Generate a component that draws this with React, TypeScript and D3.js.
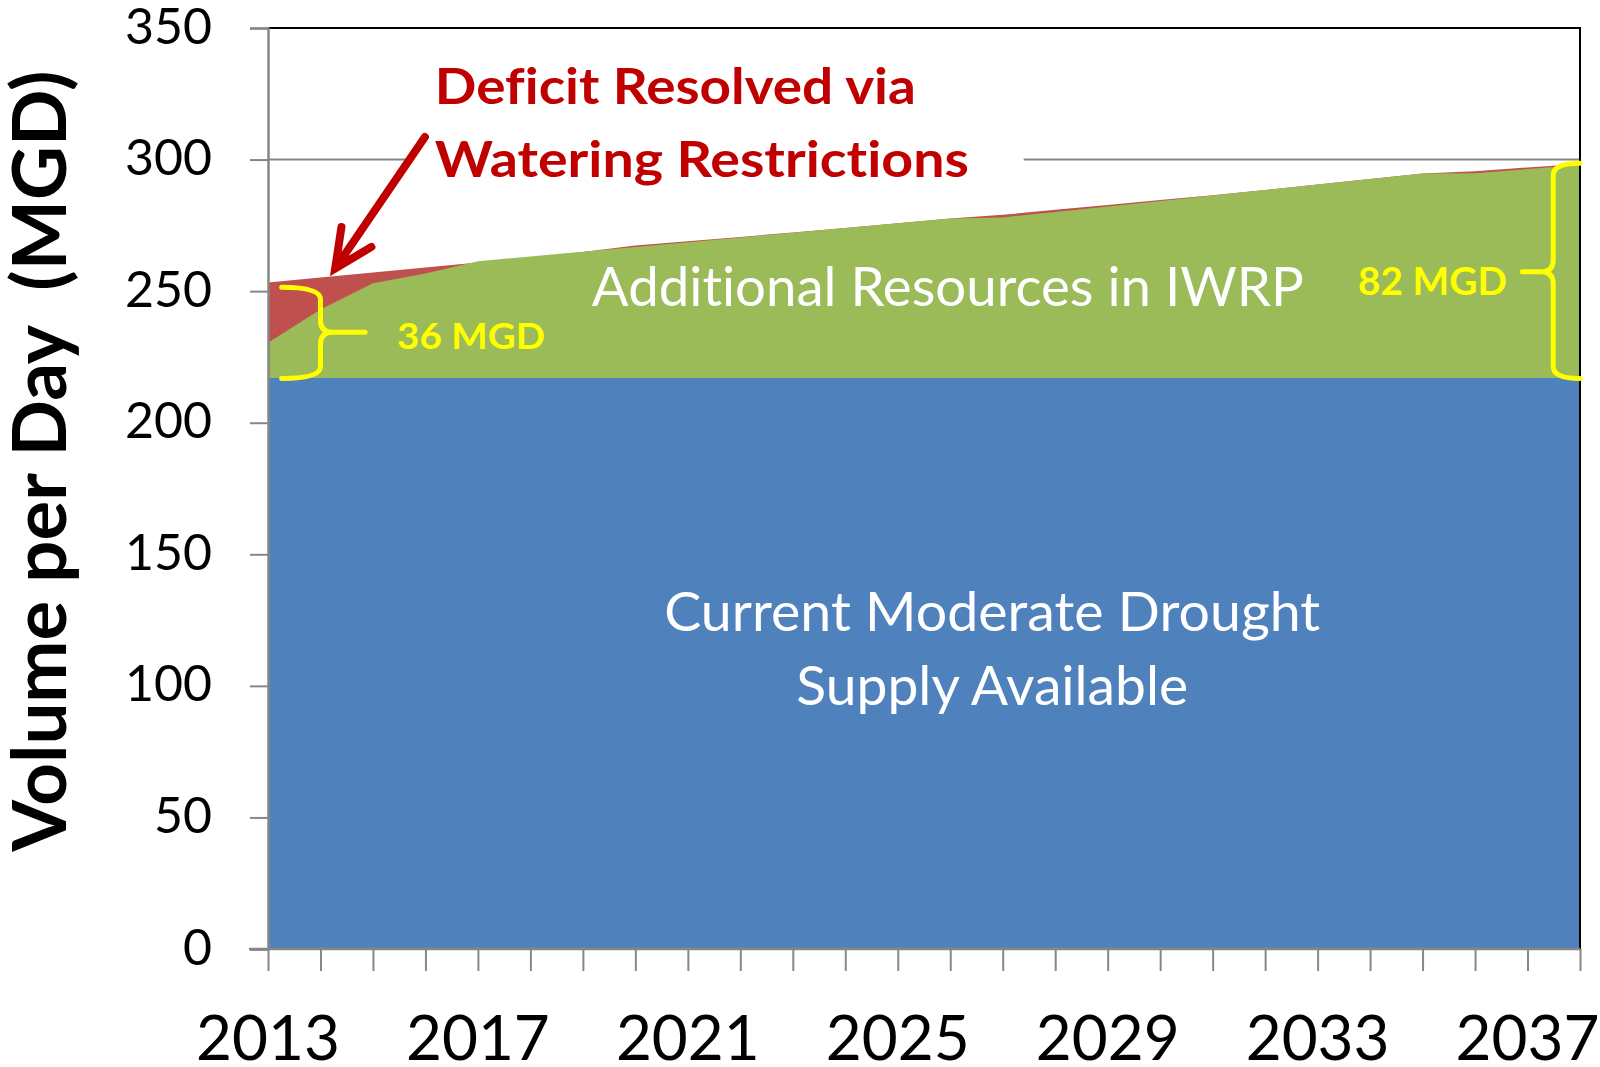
import React, { useEffect, useRef } from "react";
import * as d3 from "d3";

const years = [
    2013, 2014, 2015, 2016, 2017, 2018, 2019, 2020, 2021, 2022, 2023, 2024, 2025,
    2026, 2027, 2028, 2029, 2030, 2031, 2032, 2033, 2034, 2035, 2036, 2037, 2038
];

// current moderate drought supply (MGD)
const currentSupply = [
    217, 217, 217, 217, 217, 217, 217, 217, 217, 217, 217, 217, 217,
    217, 217, 217, 217, 217, 217, 217, 217, 217, 217, 217, 217, 217
];

// supply incl. additional IWRP resources (top of green)
const withIwrp = [
    230.4, 243.0, 253.0, 256.7, 261.4, 263.2, 265.0, 266.8, 268.6, 270.4, 272.2, 274.0, 275.8,
    277.6, 278.0, 280.1, 282.2, 284.3, 286.3, 288.4, 290.5, 292.6, 294.7, 294.8, 296.4, 297.9
];

// demand (top of red)
const demand = [
    253.3, 255.2, 257.1, 259.0, 260.9, 262.8, 264.9, 267.3, 269.0, 270.6, 272.3, 274.0, 275.8,
    277.6, 279.0, 280.9, 282.7, 284.6, 286.4, 288.4, 290.5, 292.6, 294.7, 295.6, 297.0, 298.3
];

const yTicks = [0, 50, 100, 150, 200, 250, 300, 350];
const xTickLabels = [2013, 2017, 2021, 2025, 2029, 2033, 2037];

const FONT = "Lato, 'Open Sans', sans-serif";

export default function App() {
    const svgRef = useRef(null);
    const width = 1600;
    const height = 1067;

    useEffect(() => {
        const svg = d3.select(svgRef.current);
        svg.selectAll("*").remove();

        const x = d3.scaleLinear().domain([2013, 2038]).range([268, 1580]);
        const y = d3.scaleLinear().domain([0, 350]).range([949, 28]);

        const rows = years.map((yr, i) => ({
            year: yr,
            base: currentSupply[i],
            iwrp: withIwrp[i],
            demand: demand[i]
        }));

        // gridlines (mostly hidden under the areas)
        svg.append("g")
            .selectAll("line")
            .data(yTicks.filter(t => t > 0 && t < 350))
            .join("line")
            .attr("x1", x(2013)).attr("x2", x(2038))
            .attr("y1", d => y(d)).attr("y2", d => y(d))
            .attr("stroke", "#868686")
            .attr("stroke-width", 2);

        const area = (key) => d3.area()
            .x(d => x(d.year))
            .y0(y(0))
            .y1(d => y(d[key]));

        svg.append("path").datum(rows).attr("d", area("demand")).attr("fill", "#C0504D");
        svg.append("path").datum(rows).attr("d", area("iwrp")).attr("fill", "#9BBB59");
        svg.append("path").datum(rows).attr("d", area("base")).attr("fill", "#4F81BD");

        // plot border top / right
        svg.append("path")
            .attr("d", `M${x(2013)},${y(350)} H${x(2038)} V${y(0)}`)
            .attr("fill", "none")
            .attr("stroke", "#000")
            .attr("stroke-width", 2);

        // white text box behind the callout (hides the 300 gridline)
        svg.append("rect")
            .attr("x", x(2015.62)).attr("y", 45)
            .attr("width", x(2027.4) - x(2015.62)).attr("height", 150)
            .attr("fill", "#fff");

        // y axis
        const yAxis = svg.append("g").attr("transform", `translate(${x(2013)},0)`)
            .call(d3.axisLeft(y).tickValues(yTicks).tickSize(18).tickPadding(38));
        yAxis.select(".domain").attr("stroke", "#868686").attr("stroke-width", 2.5);
        yAxis.selectAll(".tick line").attr("stroke", "#868686").attr("stroke-width", 2);
        yAxis.selectAll("text")
            .attr("font-family", FONT)
            .attr("font-size", 50)
            .attr("fill", "#000")
            .attr("dy", "0.3em");

        // x axis
        const xAxis = svg.append("g").attr("transform", `translate(0,${y(0)})`)
            .call(d3.axisBottom(x).tickValues(years).tickSize(22).tickFormat(() => ""));
        xAxis.select(".domain").attr("stroke", "#868686").attr("stroke-width", 2.5)
            .attr("d", `M${x(2013) - 19},0H${x(2038)}`);
        xAxis.selectAll(".tick line").attr("stroke", "#868686").attr("stroke-width", 2);

        svg.append("g")
            .selectAll("text")
            .data(xTickLabels)
            .join("text")
            .attr("x", d => x(d))
            .attr("y", 1060)
            .attr("text-anchor", "middle")
            .attr("font-family", FONT)
            .attr("font-size", 62)
            .attr("fill", "#000")
            .text(d => d);

        // y axis title
        svg.append("text")
            .attr("transform", `translate(66,461) rotate(-90)`)
            .attr("text-anchor", "middle")
            .attr("font-family", FONT)
            .attr("font-weight", "bold")
            .attr("font-size", 75)
            .attr("textLength", 781)
            .attr("lengthAdjust", "spacingAndGlyphs")
            .style("white-space", "pre")
            .attr("fill", "#000")
            .text("Volume per Day  (MGD)");

        // series labels
        svg.append("text")
            .attr("x", x(2019.17)).attr("y", y(244.3))
            .attr("font-family", FONT).attr("font-size", 54)
            .attr("textLength", 712).attr("lengthAdjust", "spacingAndGlyphs")
            .attr("fill", "#fff")
            .text("Additional Resources in IWRP");

        const cur = svg.append("text")
            .attr("text-anchor", "middle")
            .attr("font-family", FONT).attr("font-size", 54)
            .attr("fill", "#fff");
        cur.append("tspan").attr("x", x(2026.8)).attr("y", y(120.8))
            .attr("textLength", 656).attr("lengthAdjust", "spacingAndGlyphs")
            .text("Current Moderate Drought");
        cur.append("tspan").attr("x", x(2026.8)).attr("y", y(92.7))
            .attr("textLength", 392).attr("lengthAdjust", "spacingAndGlyphs")
            .text("Supply Available");

        // callout
        const callout = svg.append("text")
            .attr("font-family", FONT).attr("font-weight", "bold").attr("font-size", 49)
            .attr("fill", "#C00000");
        callout.append("tspan").attr("x", x(2016.18)).attr("y", y(321.3))
            .attr("textLength", 481).attr("lengthAdjust", "spacingAndGlyphs")
            .text("Deficit Resolved via");
        callout.append("tspan").attr("x", x(2016.18)).attr("y", y(293.4))
            .attr("textLength", 534).attr("lengthAdjust", "spacingAndGlyphs")
            .text("Watering Restrictions");

        const tip = [x(2014.28), y(258.6)];
        svg.append("path")
            .attr("d", `M${x(2015.99)},${y(308.6)} L${tip[0]},${tip[1]}
                        M${x(2014.4)},${y(274.4)} L${tip[0]},${tip[1]} L${x(2014.97)},${y(266.8)}`)
            .attr("fill", "none")
            .attr("stroke", "#C00000")
            .attr("stroke-width", 8)
            .attr("stroke-linecap", "round")
            .attr("stroke-linejoin", "miter");

        // braces
        const brace = (x0, xs, xt, y1, y2, ym, r) => {
            const s = Math.sign(xs - x0);
            return `M${x0},${y1} Q${xs},${y1} ${xs},${y1 + r}
                    L${xs},${ym - r} Q${xs},${ym} ${xs + s * r},${ym} L${xt},${ym}
                    M${xs + s * r},${ym} Q${xs},${ym} ${xs},${ym + r}
                    L${xs},${y2 - r} Q${xs},${y2} ${x0},${y2}`;
        };

        svg.append("path")
            .attr("d", brace(x(2013.26), x(2014.0), x(2014.85), y(251.5), y(216.8), y(234.4), 12))
            .attr("fill", "none").attr("stroke", "#FFFF00").attr("stroke-width", 5)
            .attr("stroke-linecap", "round");

        svg.append("path")
            .attr("d", brace(x(2038), x(2037.49), x(2036.9), y(298.6), y(216.8), y(257.4), 12))
            .attr("fill", "none").attr("stroke", "#FFFF00").attr("stroke-width", 5)
            .attr("stroke-linecap", "round");

        svg.append("text")
            .attr("x", x(2015.46)).attr("y", y(228))
            .attr("font-family", FONT).attr("font-weight", "bold").attr("font-size", 37)
            .attr("textLength", 148).attr("lengthAdjust", "spacingAndGlyphs")
            .attr("fill", "#FFFF00")
            .text("36 MGD");

        svg.append("text")
            .attr("x", x(2033.77)).attr("y", y(248.5))
            .attr("font-family", FONT).attr("font-weight", "bold").attr("font-size", 39)
            .attr("textLength", 149).attr("lengthAdjust", "spacingAndGlyphs")
            .attr("fill", "#FFFF00")
            .text("82 MGD");
    }, []);

    return (
        <svg
            ref={svgRef}
            width={width}
            height={height}
            style={{
                position: "absolute",
                left: 0,
                top: 0,
                background: "#fff",
                fontVariantLigatures: "none"
            }}
        />
    );
}
